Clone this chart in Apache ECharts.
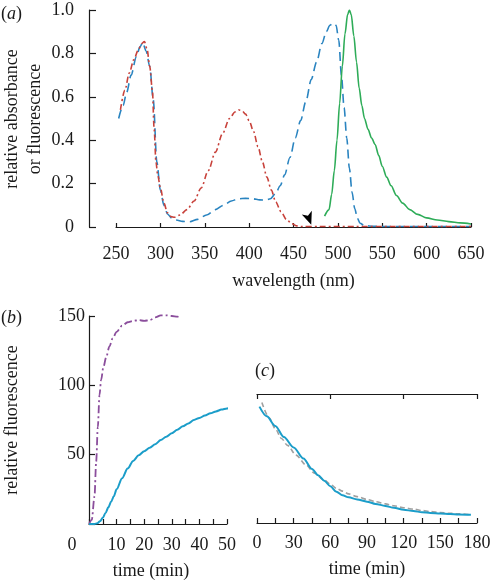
<!DOCTYPE html>
<html>
<head>
<meta charset="utf-8">
<script src="https://cdn.jsdelivr.net/npm/echarts@6/dist/echarts.min.js"></script>
<style>html,body{margin:0;padding:0;background:#fff}#c{width:491px;height:581px}</style>
</head>
<body>
<div id="c"></div>
<script>
// ---------- Panel (a): spectra ----------
const blueNm  = [253,258,262,267,273,277,280,284,288,292,296,300,304,308,313,318,325,333,342,352,362,371,380,388,396,404,412,418,424,430,435,440,446,452,458,464,470,476,482,487,491,495,498,501,504,507,510,513,516,519,522,525,530,540,560,600,650];
const blueAbs = [0.50,0.56,0.62,0.70,0.785,0.83,0.85,0.81,0.74,0.585,0.30,0.17,0.10,0.06,0.04,0.032,0.026,0.024,0.035,0.055,0.08,0.10,0.12,0.13,0.132,0.13,0.125,0.124,0.13,0.155,0.19,0.24,0.32,0.41,0.49,0.58,0.68,0.76,0.845,0.90,0.93,0.94,0.93,0.86,0.70,0.55,0.41,0.27,0.16,0.085,0.04,0.017,0.006,0.003,0.002,0.002,0.002];

const redNm  = [255,260,265,270,275,279,282,285,288,291,293,295,297,300,304,308,312,316,322,330,338,346,354,362,370,378,384,388,392,396,400,405,410,415,420,425,430,436,442,448,454,460,480,520,560,600,650];
const redAbs = [0.54,0.63,0.71,0.77,0.815,0.845,0.855,0.82,0.74,0.63,0.45,0.30,0.24,0.18,0.11,0.065,0.048,0.045,0.055,0.08,0.12,0.18,0.26,0.345,0.43,0.50,0.53,0.54,0.535,0.52,0.49,0.44,0.37,0.30,0.23,0.17,0.115,0.07,0.035,0.015,0.005,0.002,0.002,0.002,0.002,0.002,0.002];

const greenNm = [485,490,493,496,499,502,505,508,511,513,515,518,521,524,527,530,534,538,542,546,550,555,560,566,573,581,590,600,612,625,638,650];
const greenFl = [0.05,0.08,0.15,0.26,0.40,0.57,0.74,0.89,0.98,1.0,0.98,0.88,0.76,0.64,0.56,0.50,0.45,0.41,0.38,0.33,0.28,0.23,0.19,0.145,0.11,0.08,0.058,0.042,0.032,0.025,0.019,0.014];

const arrowNm = 470, arrowVal = 0.01;

const nmTicks  = [250,650,50];          // min, max, step
const absTicks = [0,1,0.2];
const absTitle = 'relative absorbance\nor fluorescence';

// ---------- Panel (b): fluorescence vs time ----------
const purpleT = [0,1,2,2.6,3.2,3.8,4.4,5.2,6.2,7.4,8.6,10,12,14,16,18,20,22,24,26,28,30,32,33];
const purpleF = [0,3,20,45,70,93,104,113,120,128,134,138.5,143,145.5,146.5,147,146.5,147,149,150.5,150.5,150,149.5,149];

const cyanT = [0,2,3,4,5,6,7,8,9,10,12,14,16,18,20,22,24,26,28,30,32,34,36,38,40,42,44,46,48,50,52,53];
const cyanF = [0,0,0.5,2,4.5,8,12,16,20,25,33,40,45.5,49.5,52.5,55,57.5,60.5,63,65.5,68,70.5,72.5,75,76.5,78.2,79.8,81.2,82.5,83.3,84,84.2];

const timeBTicks = [0,50,5];
const fluoBTicks = [0,150,50];

// ---------- Panel (c): decay ----------
const decayT = [2,8,15,22,30,38,45,50,55,60,65,70,75,82,90,97,105,112,120,128,135,142,150,158,165,175];
const decayF = [84,77,70,62,54.5,46.5,39,34.5,30.5,26.5,22.5,20,18.5,17,15.4,13.8,12.3,11,9.6,8.6,7.8,7.3,6.8,6.5,6.2,6.0];
const fitT = [4,10,15,20,25,32,40,47,55,60,65,70,75,82,90,97,105,112,120,128,135,142,150,158,165,175];
const fitF = [87,76,68,61,56,49,42,36,31,28,25,23,21,19,17,15.4,13.8,12.4,11,10,9,8.2,7.5,7,6.6,6];

const timeCTicks = [0,180,15];
const fluoCMax = 93.1;

const FONT = "'Liberation Serif', 'Times New Roman', 'DejaVu Serif', serif";
const INK = '#1a1a1a';
const pairs = (xs, ys) => xs.map((x, i) => [x, ys[i]]);

const axLine = () => ({show:true, onZero:false, lineStyle:{color:INK, width:1.2}});
const tick = (len) => ({show:true, inside:true, length:len, lineStyle:{color:INK, width:1.2}});
const lbl = (extra) => Object.assign({color:INK, fontFamily:FONT, fontSize:18}, extra||{});
const nameStyle = (extra) => Object.assign({color:INK, fontFamily:FONT, fontSize:18}, extra||{});

const chart = echarts.init(document.getElementById('c'), null, {renderer:'canvas'});
chart.setOption({
  animation:false,
  backgroundColor:'#fff',
  textStyle:{fontFamily:FONT},
  grid:[
    {left:116, right:20, top:10, bottom:354, outerBoundsMode:'none', containLabel:false},
    {left:89, right:264, top:316, bottom:57, outerBoundsMode:'none', containLabel:false},
    {left:257, right:14, top:394, bottom:58, outerBoundsMode:'none', containLabel:false}
  ],
  xAxis:[
    {gridIndex:0, type:'value', min:nmTicks[0], max:nmTicks[1], interval:nmTicks[2],
     axisLine:axLine(), axisTick:tick(4),
     splitLine:{show:false}, axisLabel:lbl({margin:18}),
     name:'wavelength (nm)', nameLocation:'middle', nameGap:45, nameTextStyle:nameStyle()},
    {gridIndex:1, type:'value', min:timeBTicks[0], max:timeBTicks[1], interval:timeBTicks[2],
     axisLine:axLine(), axisTick:tick(5),
     splitLine:{show:false},
     axisLabel:lbl({margin:12, formatter:v => v % 10 === 0 ? (v === 0 ? '{z|0}' : String(v)) : '',
       rich:{z:{color:INK, fontFamily:FONT, fontSize:18, padding:[0,34,0,0]}}}),
     name:'time (min)', nameLocation:'middle', nameGap:38, nameTextStyle:nameStyle({padding:[0,14,0,0]})},
    {gridIndex:2, type:'value', min:timeCTicks[0], max:timeCTicks[1], interval:timeCTicks[2],
     axisLine:axLine(), axisTick:tick(5),
     splitLine:{show:false},
     axisLabel:lbl({margin:11, formatter:v => v % 30 === 0 ? String(v) : ''}),
     name:'time (min)', nameLocation:'middle', nameGap:37, nameTextStyle:nameStyle()},
    {gridIndex:2, type:'value', position:'top', min:timeCTicks[0], max:timeCTicks[1], interval:60,
     axisLine:axLine(), axisTick:tick(5),
     splitLine:{show:false}, axisLabel:{show:false}}
  ],
  yAxis:[
    {gridIndex:0, type:'value', min:absTicks[0], max:absTicks[1], interval:absTicks[2], offset:27,
     axisLine:axLine(), axisTick:tick(7),
     splitLine:{show:false},
     axisLabel:lbl({margin:15, formatter:v => v === 0 ? '0' : v.toFixed(1)})},
    {gridIndex:1, type:'value', min:fluoBTicks[0], max:fluoBTicks[1], interval:fluoBTicks[2],
     axisLine:axLine(), axisTick:tick(6),
     splitLine:{show:false},
     axisLabel:lbl({margin:4, formatter:v => v === 0 ? '' : String(v)}),
     name:'relative fluorescence', nameLocation:'middle', nameRotate:90, nameGap:68,
     nameTextStyle:nameStyle()},
    {gridIndex:2, type:'value', min:0, max:fluoCMax, show:false}
  ],
  series:[
    {type:'line', xAxisIndex:0, yAxisIndex:0, data:pairs(blueNm, blueAbs), showSymbol:false,
     smooth:0.3, smoothMonotone:'x',
     lineStyle:{color:'#2a84c0', width:1.6, type:[9,5]}},
    {type:'line', xAxisIndex:0, yAxisIndex:0, data:pairs(redNm, redAbs), showSymbol:false,
     smooth:0.3, smoothMonotone:'x',
     lineStyle:{color:'#c8423b', width:1.6, type:[6,3,2,3]},
     markPoint:{symbol:'arrow', symbolSize:[8,13], symbolRotate:200, silent:true,
       itemStyle:{color:'#000'}, label:{show:false},
       data:[{coord:[arrowNm, arrowVal]}]}},
    {type:'line', xAxisIndex:0, yAxisIndex:0, data:pairs(greenNm, greenFl), showSymbol:false,
     smooth:0.3, smoothMonotone:'x',
     lineStyle:{color:'#2eac58', width:1.6}},
    {type:'line', xAxisIndex:1, yAxisIndex:1, data:pairs(purpleT, purpleF), showSymbol:false,
     smooth:0.3, smoothMonotone:'x', clip:false,
     lineStyle:{color:'#8b4e9c', width:1.8, type:[8,3,2,3]}},
    {type:'line', xAxisIndex:1, yAxisIndex:1, data:pairs(cyanT, cyanF), showSymbol:false,
     smooth:0.3, smoothMonotone:'x', clip:false,
     lineStyle:{color:'#1b9dc9', width:2}},
    {type:'line', xAxisIndex:2, yAxisIndex:2, data:pairs(fitT, fitF), showSymbol:false,
     smooth:0.3, smoothMonotone:'x',
     lineStyle:{color:'#a0a0a0', width:1.6, type:[5,3]}},
    {type:'line', xAxisIndex:2, yAxisIndex:2, data:pairs(decayT, decayF), showSymbol:false,
     smooth:0.3, smoothMonotone:'x',
     lineStyle:{color:'#1b9dc9', width:2}}
  ],
  graphic:[
    {type:'text', x:24, y:119, rotation:Math.PI/2,
     style:{text:absTitle, fill:INK, font:'18px ' + FONT, align:'center', verticalAlign:'middle', lineHeight:23}},
    {type:'text', left:1, top:5, style:{text:'({i|a})', fill:INK, font:'18px ' + FONT,
      rich:{i:{fontStyle:'italic', fontFamily:FONT, fontSize:18, fill:INK}}}},
    {type:'text', left:1, top:309, style:{text:'({i|b})', fill:INK, font:'18px ' + FONT,
      rich:{i:{fontStyle:'italic', fontFamily:FONT, fontSize:18, fill:INK}}}},
    {type:'text', left:255, top:362, style:{text:'({i|c})', fill:INK, font:'18px ' + FONT,
      rich:{i:{fontStyle:'italic', fontFamily:FONT, fontSize:18, fill:INK}}}}
  ]
});
</script>
</body>
</html>
